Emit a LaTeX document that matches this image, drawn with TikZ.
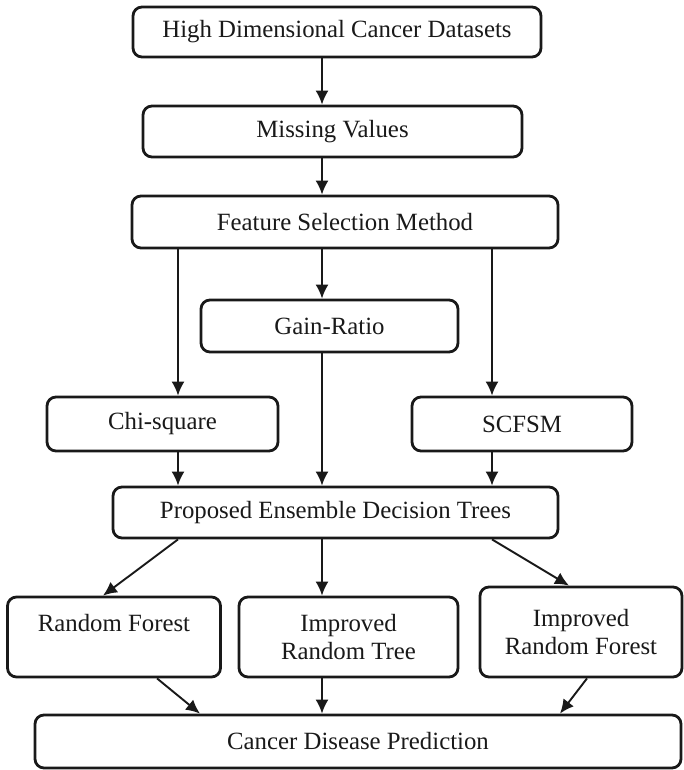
\documentclass[tikz,border=0pt]{standalone}
\usepackage{fontspec}
\setmainfont{Liberation Serif}
\usetikzlibrary{arrows.meta}

\begin{document}
\begin{tikzpicture}[x=1pt,y=-1pt,
	box/.style={draw=black!90,line width=2.8pt,rounded corners=9pt,inner sep=0pt,align=center,
		font=\fontsize{24.8}{28}\selectfont,text=black!90},
	flow/.style={draw=black!90,line width=1.9pt,-{Latex[length=14pt,width=13pt]}}]
	\useasboundingbox (0,0) rectangle (684,770);
	% main chain
	\path (337,32) node (hd) [box,minimum width=408pt,minimum height=50pt] {High Dimensional Cancer Datasets}
		  (332.5,131.5) node (mv) [box,minimum width=379pt,minimum height=51pt] {Missing Values}
		  (345,222) node (fs) [box,minimum width=426pt,minimum height=52pt] {Feature Selection Method};
	% the three selectors
	\path (329.5,326) node (gr) [box,minimum width=257pt,minimum height=52pt] {Gain-Ratio}
		  (162.5,424) node (chi) [box,minimum width=231pt,minimum height=54pt] {Chi-square}
		  (522,424) node (scf) [box,minimum width=220pt,minimum height=54pt] {SCFSM};
	\path (335.5,512.5) node (ens) [box,minimum width=445pt,minimum height=51pt] {Proposed Ensemble Decision Trees};
	% classifiers
	\path (114,637) node (rf) [box,minimum width=213pt,minimum height=80pt] {Random Forest\\ \mbox{}}
		  (348.5,637) node (irt) [box,minimum width=219pt,minimum height=80pt] {Improved\\Random Tree}
		  (581,632) node (irf) [box,minimum width=202pt,minimum height=90pt] {Improved\\Random Forest}
		  (358,741.5) node (cdp) [box,minimum width=646pt,minimum height=53pt] {Cancer Disease Prediction};
	% columns the vertical arrows run on
	\coordinate (c1) at (178,0);
	\coordinate (c2) at (322,0);
	\coordinate (c3) at (492,0);
	\draw[flow] (hd.south -| c2) -- (mv.north -| c2);
	\draw[flow] (mv.south -| c2) -- (fs.north -| c2);
	\draw[flow] (fs.south -| c2) -- (gr.north -| c2);
	\draw[flow] (fs.south -| c1) -- (chi.north -| c1);
	\draw[flow] (fs.south -| c3) -- (scf.north -| c3);
	\draw[flow] (chi.south -| c1) -- (ens.north -| c1);
	\draw[flow] (gr.south -| c2) -- (ens.north -| c2);
	\draw[flow] (scf.south -| c3) -- (ens.north -| c3);
	\draw[flow] (ens.south -| c1) -- ([xshift=-11pt]rf.north);
	\draw[flow] (ens.south -| c2) -- (irt.north -| c2);
	\draw[flow] (ens.south -| c3) -- ([xshift=-12pt]irf.north);
	\draw[flow] ([xshift=43pt]rf.south) -- ([xshift=-158pt]cdp.north);
	\draw[flow] (irt.south -| c2) -- (cdp.north -| c2);
	\draw[flow] ([xshift=6pt]irf.south) -- ([xshift=202pt]cdp.north);
\end{tikzpicture}
\end{document}
